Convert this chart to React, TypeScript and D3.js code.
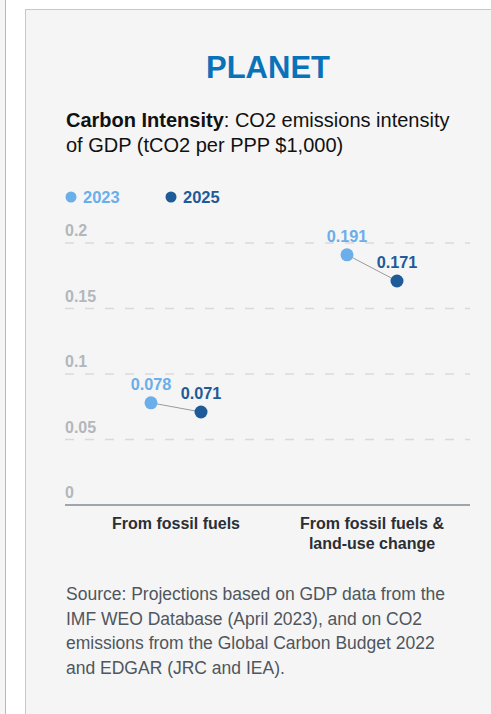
import React from "react";
import * as d3 from "d3";

const categories = ["From fossil fuels", "From fossil fuels & land-use change"];
const categoryLines = [["From fossil fuels"], ["From fossil fuels &", "land-use change"]];
const series = ["2023", "2025"];
const values2023 = [0.078, 0.191];
const values2025 = [0.071, 0.171];
const yTicks = [0, 0.05, 0.1, 0.15, 0.2];
const yTickLabels = ["0", "0.05", "0.1", "0.15", "0.2"];
const sourceLines = [
  "Source: Projections based on GDP data from the",
  "IMF WEO Database (April 2023), and on CO2",
  "emissions from the Global Carbon Budget 2022",
  "and EDGAR (JRC and IEA).",
];

const W = 491;
const H = 714;
const LIGHT = "#6aaeea";
const DARK = "#1f5b98";
const FONT = "'Liberation Sans', Arial, Helvetica, sans-serif";

export default function App() {
  const y = d3.scaleLinear().domain([0, 0.2]).range([505, 243]);
  const x = d3.scaleBand().domain(categories).range([78, 470]);
  const off = d3.scalePoint().domain(series).range([-25, 25]);
  const axisLeft = 65;
  const axisRight = 470;
  const seriesVals = [values2023, values2025];
  const colors = [LIGHT, DARK];

  return (
    <svg
      width={W}
      height={H}
      style={{ position: "absolute", left: 0, top: 0, fontFamily: FONT }}
    >
      <rect x={0} y={0} width={W} height={H} fill="#ffffff" />
      {/* left neighbouring panel */}
      <rect x={-2} y={-2} width={7.5} height={H + 4} fill="#f5f5f5" />
      <line x1={5.5} x2={5.5} y1={0} y2={H} stroke="#b8b8b8" strokeWidth={1} />
      {/* card */}
      <rect x={25.5} y={9.5} width={470} height={H + 20} fill="#f5f5f5" stroke="#c8c8c8" strokeWidth={1} />

      <text x={268} y={78} textAnchor="middle" fontWeight="bold" fontSize={31} fill="#0a72b9">
        PLANET
      </text>
      <text x={66} y={127} fontSize={20} fill="#111">
        <tspan fontWeight="bold">Carbon Intensity</tspan>
        <tspan>: CO2 emissions intensity</tspan>
      </text>
      <text x={66} y={152} fontSize={20} fill="#111">
        of GDP (tCO2 per PPP $1,000)
      </text>

      {/* legend */}
      {series.map((s, i) => (
        <g key={s} transform={`translate(${71 + i * 100},197)`}>
          <circle r={5.5} fill={colors[i]} />
          <text x={12} y={5.5} fontSize={16.5} fontWeight="bold" fill={colors[i]}>
            {s}
          </text>
        </g>
      ))}

      {/* grid */}
      {yTicks.map((t, i) => (
        <g key={t}>
          {t !== 0 && (
            <line
              x1={axisLeft}
              x2={axisRight}
              y1={y(t)}
              y2={y(t)}
              stroke="#dadada"
              strokeWidth={1.5}
              strokeDasharray="9,11"
            />
          )}
          <text x={axisLeft} y={y(t) - 7} fontSize={16} fontWeight="bold" fill="#b3b7bb">
            {yTickLabels[i]}
          </text>
        </g>
      ))}
      <line x1={axisLeft} x2={axisRight} y1={y(0)} y2={y(0)} stroke="#a0a5ad" strokeWidth={2} />

      {/* dumbbells */}
      {categories.map((c, ci) => {
        const cx = (x(c) as number) + x.bandwidth() / 2;
        const x0 = cx + (off(series[0]) as number);
        const x1 = cx + (off(series[1]) as number);
        return (
          <g key={c}>
            <line x1={x0} x2={x1} y1={y(values2023[ci])} y2={y(values2025[ci])} stroke="#9a9a9a" strokeWidth={1} />
            {seriesVals.map((vals, si) => {
              const px = si === 0 ? x0 : x1;
              return (
                <g key={si}>
                  <circle cx={px} cy={y(vals[ci])} r={6.5} fill={colors[si]} />
                  <text
                    x={px}
                    y={y(vals[ci]) - 13}
                    textAnchor="middle"
                    fontSize={16.3}
                    fontWeight="bold"
                    fill={colors[si]}
                  >
                    {vals[ci].toFixed(3)}
                  </text>
                </g>
              );
            })}
            {categoryLines[ci].map((ln, li) => (
              <text
                key={li}
                x={cx}
                y={529 + li * 20}
                textAnchor="middle"
                fontSize={16}
                fontWeight="bold"
                fill="#2a2f36"
              >
                {ln}
              </text>
            ))}
          </g>
        );
      })}

      {sourceLines.map((ln, i) => (
        <text key={i} x={66} y={600 + i * 24.7} fontSize={17.5} fill="#4f565e">
          {ln}
        </text>
      ))}
    </svg>
  );
}
